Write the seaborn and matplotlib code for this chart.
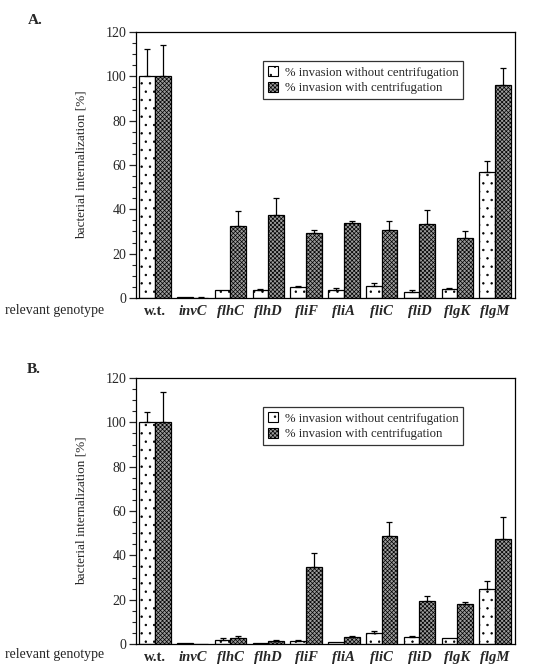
import matplotlib
matplotlib.use("Agg")
import matplotlib.pyplot as plt
import seaborn as sns
import pandas as pd
import numpy as np
from matplotlib.patches import Patch
from matplotlib.ticker import MultipleLocator, AutoMinorLocator

genotypes = ['w.t.', 'invC', 'flhC', 'flhD', 'fliF', 'fliA', 'fliC', 'fliD', 'flgK', 'flgM']
series = ['% invasion without centrifugation', '% invasion with centrifugation']

A_without = [100, 0.4, 3.8, 3.5, 5.0, 3.5, 5.4, 2.6, 3.9, 56.9]
A_without_err = [12.5, 0.0, 0.0, 0.4, 0.5, 0.9, 1.5, 0.9, 0.6, 5.1]
A_with = [100, 0.2, 32.7, 37.6, 29.5, 33.9, 30.9, 33.3, 27.0, 95.9]
A_with_err = [14.0, 0.3, 6.4, 7.3, 1.1, 1.0, 4.0, 6.3, 3.4, 7.8]

B_without = [100, 0.5, 2.0, 0.4, 1.5, 1.0, 5.0, 3.0, 2.5, 25.0]
B_without_err = [4.7, 0.0, 0.6, 0.0, 0.5, 0.0, 1.1, 0.5, 0.0, 3.6]
B_with = [100, 0.0, 2.5, 1.5, 34.7, 3.0, 48.9, 19.5, 18.2, 47.4]
B_with_err = [13.7, 0.0, 1.0, 0.5, 6.3, 0.5, 6.3, 2.0, 0.8, 9.9]

sns.set_style("ticks")
plt.rcParams['font.family'] = ['Liberation Serif', 'DejaVu Serif']
plt.rcParams['hatch.color'] = '#222222'
plt.rcParams['hatch.linewidth'] = 0.5

fills = ['white', '#9c9c9c']
hatches = ['..', 'xxxxxxxx']

fig = plt.figure(figsize=(5.38, 6.71), dpi=100)
axA = fig.add_axes([0.2528, 0.5559, 0.7045, 0.3964])
axB = fig.add_axes([0.2528, 0.0402, 0.7045, 0.3964])


def draw(ax, without, without_err, with_, with_err):
    df = pd.DataFrame({
        'genotype': genotypes * 2,
        'series': [series[0]] * len(genotypes) + [series[1]] * len(genotypes),
        'value': list(without) + list(with_),
    })
    sns.barplot(data=df, x='genotype', y='value', hue='series', order=genotypes,
                hue_order=series, width=0.83, palette=fills, edgecolor='black',
                linewidth=0.9, legend=False, ax=ax, errorbar=None, saturation=1)
    errs = [without_err, with_err]
    vals = [without, with_]
    conts = list(ax.containers)[:2]
    for ci, cont in enumerate(conts):
        for bi, bar in enumerate(cont.patches):
            bar.set_hatch(hatches[ci])
            bar.set_facecolor(fills[ci])
            e = errs[ci][bi]
            if e > 0:
                xc = bar.get_x() + bar.get_width() / 2
                ax.errorbar([xc], [vals[ci][bi]], yerr=[[0], [e]], fmt='none',
                            ecolor='black', elinewidth=0.9, capsize=2.5,
                            capthick=0.9, zorder=1)
    ax.set_xlim(-0.5, 9.53)
    ax.set_ylim(0, 120)
    ax.yaxis.set_major_locator(MultipleLocator(20))
    ax.yaxis.set_minor_locator(AutoMinorLocator(4))
    ax.tick_params(axis='y', which='major', length=5, width=0.9, direction='out',
                   labelsize=10, pad=2)
    ax.tick_params(axis='y', which='minor', length=3, width=0.8, direction='out')
    ax.tick_params(axis='x', which='both', length=0, pad=5)
    for s in ax.spines.values():
        s.set_visible(True)
        s.set_linewidth(0.9)
        s.set_color('black')
    ax.set_xlabel('')
    ax.set_ylabel('bacterial internalization [%]', fontsize=9.5, labelpad=13)
    ax.set_xticks(range(len(genotypes)))
    ax.set_xticklabels(genotypes)
    for i, lab in enumerate(ax.get_xticklabels()):
        lab.set_fontweight('bold')
        lab.set_fontsize(10.5)
        if i > 0:
            lab.set_fontstyle('italic')
    handles = [Patch(facecolor=fills[i], edgecolor='black', hatch=hatches[i],
                     linewidth=0.8, label=series[i]) for i in range(2)]
    leg = ax.legend(handles=handles, loc='upper left', bbox_to_anchor=(0.335, 0.89),
                    frameon=True, fancybox=False, fontsize=9.2, handlelength=0.8,
                    handleheight=0.8, handletextpad=0.5, borderpad=0.4,
                    labelspacing=0.25, borderaxespad=0)
    leg.get_frame().set_edgecolor('black')
    leg.get_frame().set_linewidth(0.9)


draw(axA, A_without, A_without_err, A_with, A_with_err)
draw(axB, B_without, B_without_err, B_with, B_with_err)

fig.text(0.052, 0.970, 'A.', fontsize=11, fontweight='bold', va='center', ha='left')
fig.text(0.050, 0.4486, 'B.', fontsize=11, fontweight='bold', va='center', ha='left')
fig.text(0.0093, 0.538, 'relevant genotype', fontsize=10, va='center', ha='left')
fig.text(0.0093, 0.024, 'relevant genotype', fontsize=10, va='center', ha='left')

fig.savefig('out.png', dpi=100)
